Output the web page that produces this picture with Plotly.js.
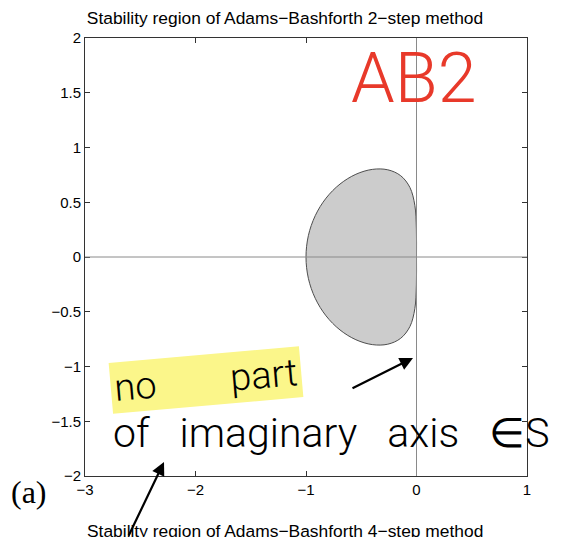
<!DOCTYPE html>
<html>
<head>
<meta charset="utf-8">
<script src="https://cdn.plot.ly/plotly-3.0.1.min.js"></script>
<style>
  html, body { margin: 0; padding: 0; background: #ffffff; }
  #chart { width: 564px; height: 537px; }
</style>
</head>
<body>
<div id="chart"></div>
<script>
// Boundary of the AB2 stability region, traced counter-clockwise from the origin.
var boundaryRe = [0, -0.0011, -0.0150, -0.0596, -0.1429, -0.2601, -0.4000, -0.5486, -0.6923, -0.8185, -0.9165, -0.9787, -1.0000,
                  -0.9787, -0.9165, -0.8185, -0.6923, -0.5486, -0.4000, -0.2601, -0.1429, -0.0596, -0.0150, -0.0011, 0];
var boundaryIm = [0, 0.2547, 0.4721, 0.6352, 0.7423, 0.7964, 0.8000, 0.7554, 0.6662, 0.5376, 0.3772, 0.1944, 0,
                  -0.1944, -0.3772, -0.5376, -0.6662, -0.7554, -0.8000, -0.7964, -0.7423, -0.6352, -0.4721, -0.2547, 0];

var xTicks = [-3, -2, -1, 0, 1];
var yTicks = [-2, -1.5, -1, -0.5, 0, 0.5, 1, 1.5, 2];

var titleText = 'Stability region of Adams\u2212Bashforth 2\u2212step method';
var nextTitleText = 'Stability region of Adams\u2212Bashforth 4\u2212step method';
var noteRed = 'AB2';
var noteHighlight = 'no&nbsp;&nbsp;&nbsp;&nbsp;&nbsp;&nbsp;&nbsp;&nbsp;part';
var noteLine = 'of&nbsp;&nbsp;&nbsp;imaginary&nbsp;&nbsp;&nbsp;axis&nbsp;&nbsp;&nbsp;\u2208S';
var panelLabel = '(a)';

function fmt(v) {
  var s = String(Math.abs(v));
  return (v < 0 ? '\u2212' : '') + s;
}

var W = 564, H = 537;
var M = {l: 85, r: 37, t: 38, b: 61};
var plotW = W - M.l - M.r, plotH = H - M.t - M.b;
// pixel -> paper helpers for the annotations
function px(x) { return (x - M.l) / plotW; }
function py(y) { return (H - M.b - y) / plotH; }

var region = {
  type: 'scatter',
  mode: 'lines',
  x: boundaryRe,
  y: boundaryIm,
  fill: 'toself',
  fillcolor: '#cccccc',
  line: {color: '#4d4d4d', width: 1, shape: 'spline', smoothing: 1},
  hoverinfo: 'skip'
};

var sans = 'Liberation Sans, Arial, Helvetica, sans-serif';
var axisFont = {family: sans, size: 15, color: '#000000'};
var hand = 'Roboto, "Open Sans", sans-serif';

var layout = {
  width: W, height: H,
  margin: M,
  paper_bgcolor: '#ffffff',
  plot_bgcolor: '#ffffff',
  showlegend: false,
  title: {
    text: titleText,
    font: {family: sans, size: 17.4, color: '#000000'},
    x: px(285), xanchor: 'center', xref: 'paper',
    y: 1 - 18 / H, yanchor: 'middle', yref: 'container'
  },
  xaxis: {
    range: [-3, 1], tickvals: xTicks, ticktext: xTicks.map(fmt),
    ticks: 'inside', ticklen: 5, tickwidth: 1, tickcolor: '#333333',
    showline: true, linecolor: '#333333', linewidth: 1, mirror: 'ticks',
    showgrid: false, zeroline: false, tickfont: axisFont, fixedrange: true
  },
  yaxis: {
    range: [-2, 2], tickvals: yTicks, ticktext: yTicks.map(fmt),
    ticks: 'inside', ticklen: 5, tickwidth: 1, tickcolor: '#333333',
    showline: true, linecolor: '#333333', linewidth: 1, mirror: 'ticks',
    showgrid: false, zeroline: false, tickfont: axisFont, fixedrange: true
  },
  shapes: [
    {type: 'line', xref: 'x', yref: 'paper', x0: 0, x1: 0, y0: 0, y1: 1,
     line: {color: '#8a8a8a', width: 1}, layer: 'above'},
    {type: 'line', xref: 'paper', yref: 'y', x0: 0, x1: 1, y0: 0, y1: 0,
     line: {color: '#8a8a8a', width: 1}, layer: 'above'}
  ],
  annotations: [
    {text: noteRed, xref: 'paper', yref: 'paper', x: px(414), y: py(78),
     xanchor: 'center', yanchor: 'middle', showarrow: false,
     font: {family: hand, size: 70, color: '#e8392a', weight: 300}},
    {text: noteHighlight, xref: 'paper', yref: 'paper', x: px(206), y: py(380),
     xanchor: 'center', yanchor: 'middle', showarrow: false, textangle: -5,
     bgcolor: '#fbf68a', borderpad: 3,
     font: {family: hand, size: 38, color: '#000000', weight: 300}},
    {text: noteLine, xref: 'paper', yref: 'paper', x: px(331), y: py(433),
     xanchor: 'center', yanchor: 'middle', showarrow: false,
     font: {family: hand, size: 41, color: '#000000', weight: 300}},
    {text: panelLabel, xref: 'paper', yref: 'paper', x: px(29), y: py(492),
     xanchor: 'center', yanchor: 'middle', showarrow: false,
     font: {family: 'Liberation Serif, Times New Roman, serif', size: 32, color: '#000000'}},
    {text: nextTitleText, xref: 'paper', yref: 'paper', x: px(285), y: py(531),
     xanchor: 'center', yanchor: 'middle', showarrow: false,
     font: {family: sans, size: 17.4, color: '#000000'}},
    {text: '', xref: 'paper', yref: 'paper', x: px(413), y: py(358),
     ax: -62, ay: 31, showarrow: true, arrowhead: 2, arrowsize: 1.2, arrowwidth: 2.2, arrowcolor: '#000000'},
    {text: '', xref: 'paper', yref: 'paper', x: px(164), y: py(462),
     ax: -36, ay: 86, showarrow: true, arrowhead: 2, arrowsize: 1.2, arrowwidth: 2.2, arrowcolor: '#000000'}
  ]
};

Plotly.newPlot('chart', [region], layout, {displayModeBar: false, staticPlot: true});
</script>
</body>
</html>
